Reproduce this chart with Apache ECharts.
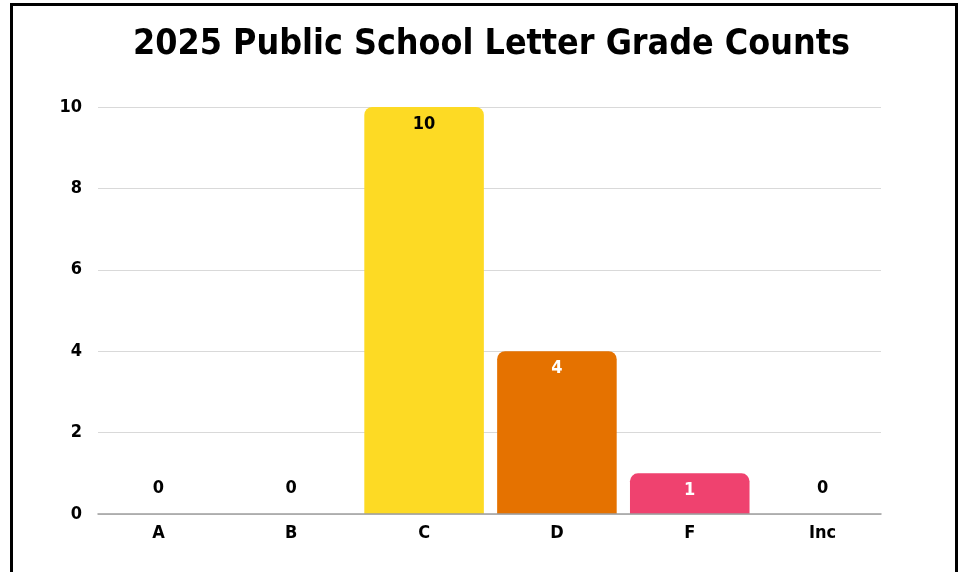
<!DOCTYPE html>
<html>
<head>
<meta charset="utf-8">
<script src="https://cdn.jsdelivr.net/npm/echarts@6/dist/echarts.min.js"></script>
<style>
  html, body { margin: 0; padding: 0; background: #fff; }
  #chart { position: absolute; left: 0; top: 0; width: 966px; height: 572px; }
  #frame { position: absolute; left: 10px; top: 3px; width: 942px; height: 600px;
           border: 3.5px solid #000; pointer-events: none; }
</style>
</head>
<body>
<div id="chart"></div>
<div id="frame"></div>
<script>
const titleText = '2025 Public School Letter Grade Counts';
const categories = ['A', 'B', 'C', 'D', 'F', 'Inc'];
const counts = [0, 0, 10, 4, 1, 0];
const barColors = ['#FDDA24', '#FDDA24', '#FDDA24', '#E57200', '#EF426F', '#FDDA24'];
const labelColors = ['#000', '#000', '#000', '#fff', '#fff', '#000'];
const yTicks = [0, 2, 4, 6, 8, 10];

const FONT = '"Liberation Sans Narrow", "DejaVu Sans Condensed", sans-serif';
const yMin = yTicks[0], yMax = yTicks[yTicks.length - 1];
const chart = echarts.init(document.getElementById('chart'));
chart.setOption({
  animation: false,
  title: {
    text: titleText, left: 128, top: 22,
    textStyle: { fontFamily: FONT, fontWeight: 'bold', fontSize: 35.5, color: '#000' }
  },
  grid: [
    { left: 98, right: 85, top: 107, bottom: 58 },
    { left: 92, right: 77, top: 107, bottom: 58 }
  ],
  xAxis: [
    {
      gridIndex: 0, type: 'category', data: categories,
      axisTick: { show: false }, axisLabel: { show: false },
      axisLine: { lineStyle: { color: '#9e9e9e', width: 1.5 } }, z: 3
    },
    {
      gridIndex: 1, type: 'category', data: categories,
      axisTick: { show: false }, axisLine: { show: false },
      axisLabel: { fontFamily: FONT, fontWeight: 'bold', fontSize: 18, color: '#000', margin: 10 }
    }
  ],
  yAxis: [
    {
      gridIndex: 0, type: 'value', min: yMin, max: yMax, interval: 2,
      axisLine: { show: false }, axisTick: { show: false },
      splitLine: { lineStyle: { color: '#d9d9d9', width: 1.2 } },
      axisLabel: { fontFamily: FONT, fontWeight: 'bold', fontSize: 18, color: '#000', margin: 16 }
    },
    {
      gridIndex: 1, type: 'value', min: yMin, max: yMax, interval: 2,
      axisLine: { show: false }, axisTick: { show: false },
      splitLine: { show: false }, axisLabel: { show: false }
    }
  ],
  series: [{
    type: 'bar', xAxisIndex: 1, yAxisIndex: 1,
    barCategoryGap: '10%',
    data: counts.map((v, i) => ({
      value: v,
      itemStyle: { color: barColors[i], borderRadius: [8, 8, 0, 0] },
      label: {
        show: true,
        position: v === 0 ? 'top' : 'insideTop',
        distance: v === 0 ? 17 : 8,
        color: labelColors[i],
        fontFamily: FONT, fontWeight: 'bold', fontSize: 18
      }
    }))
  }]
});
</script>
</body>
</html>
